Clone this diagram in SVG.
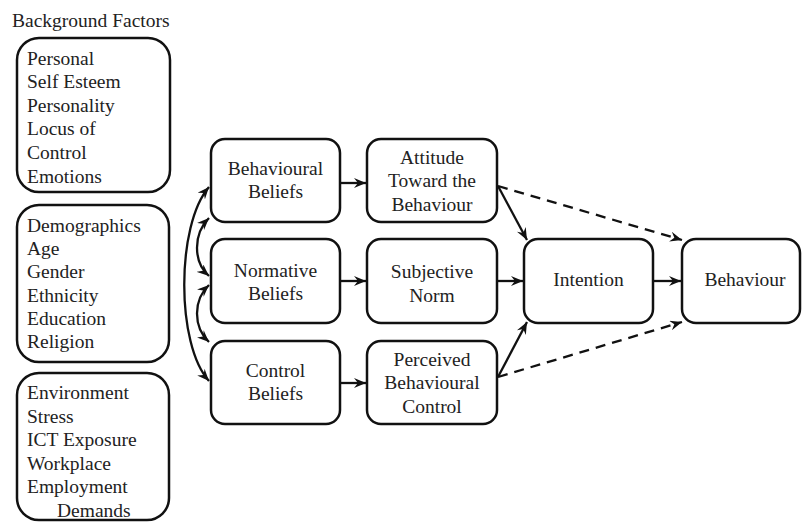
<svg xmlns="http://www.w3.org/2000/svg" width="803" height="525" viewBox="0 0 803 525" font-family="Liberation Serif, DejaVu Serif, serif">
<style>
text{font-size:19.5px;fill:#222}
.c{text-anchor:middle}
.box{fill:#fff;stroke:#111;stroke-width:2.5}
.ln{fill:none;stroke:#111;stroke-width:2.3}
.d{stroke-dasharray:10,7}
</style>
<defs>
<marker id="ah" viewBox="0 0 12 10" refX="12" refY="5" markerWidth="12" markerHeight="10" markerUnits="userSpaceOnUse" orient="auto-start-reverse">
<path d="M0,0 L12,5 L0,10 L4,5 z" fill="#111"/>
</marker>
</defs>
<g font-family="Liberation Serif, serif">
<text x="12" y="27">Background Factors</text>
<g id="personal">
<rect class="box" x="17" y="38" width="153" height="154" rx="22"/>
<text x="27" y="65">Personal</text>
<text x="27" y="88">Self Esteem</text>
<text x="27" y="112">Personality</text>
<text x="27" y="135">Locus of</text>
<text x="27" y="159">Control</text>
<text x="27" y="183">Emotions</text>
</g>
<g id="demographics">
<rect class="box" x="17" y="205" width="152" height="157" rx="22"/>
<text x="27" y="232">Demographics</text>
<text x="27" y="255">Age</text>
<text x="27" y="278">Gender</text>
<text x="27" y="302">Ethnicity</text>
<text x="27" y="325">Education</text>
<text x="27" y="348">Religion</text>
</g>
<g id="environment">
<rect class="box" x="17" y="373" width="152" height="147" rx="22"/>
<text x="27" y="399">Environment</text>
<text x="27" y="423">Stress</text>
<text x="27" y="446">ICT Exposure</text>
<text x="27" y="470">Workplace</text>
<text x="27" y="493">Employment</text>
<text x="57" y="517">Demands</text>
</g>
<g id="behavioural-beliefs">
<rect class="box" x="211" y="139" width="129" height="83" rx="14"/>
<text class="c" x="275.5" y="175">Behavioural</text>
<text class="c" x="275.5" y="198">Beliefs</text>
</g>
<g id="normative-beliefs">
<rect class="box" x="211" y="239" width="129" height="84" rx="14"/>
<text class="c" x="275.5" y="277">Normative</text>
<text class="c" x="275.5" y="300">Beliefs</text>
</g>
<g id="control-beliefs">
<rect class="box" x="211" y="341" width="129" height="83" rx="14"/>
<text class="c" x="275.5" y="377">Control</text>
<text class="c" x="275.5" y="400">Beliefs</text>
</g>
<g id="attitude">
<rect class="box" x="367" y="139" width="130" height="83" rx="14"/>
<text class="c" x="432" y="164">Attitude</text>
<text class="c" x="432" y="187">Toward the</text>
<text class="c" x="432" y="211">Behaviour</text>
</g>
<g id="subjective-norm">
<rect class="box" x="367" y="239" width="130" height="84" rx="14"/>
<text class="c" x="432" y="278">Subjective</text>
<text class="c" x="432" y="302">Norm</text>
</g>
<g id="perceived-control">
<rect class="box" x="367" y="341" width="130" height="83" rx="14"/>
<text class="c" x="432" y="366">Perceived</text>
<text class="c" x="432" y="389">Behavioural</text>
<text class="c" x="432" y="413">Control</text>
</g>
<g id="intention">
<rect class="box" x="524" y="239" width="129" height="84" rx="14"/>
<text class="c" x="588.5" y="286">Intention</text>
</g>
<g id="behaviour">
<rect class="box" x="682" y="239" width="118" height="84" rx="14"/>
<text class="c" x="745" y="286">Behaviour</text>
</g>
</g>
<g id="connectors">
<line class="ln" x1="340" y1="183" x2="366" y2="183" marker-end="url(#ah)"/>
<line class="ln" x1="340" y1="281" x2="366" y2="281" marker-end="url(#ah)"/>
<line class="ln" x1="340" y1="383" x2="366" y2="383" marker-end="url(#ah)"/>
<line class="ln" x1="497" y1="281" x2="523" y2="281" marker-end="url(#ah)"/>
<line class="ln" x1="653" y1="281" x2="681" y2="281" marker-end="url(#ah)"/>
<line class="ln" x1="498" y1="186" x2="527" y2="240" marker-end="url(#ah)"/>
<line class="ln" x1="498" y1="377" x2="527" y2="322" marker-end="url(#ah)"/>
<line class="ln d" x1="498" y1="186" x2="682" y2="240" marker-end="url(#ah)"/>
<line class="ln d" x1="498" y1="377" x2="682" y2="322" marker-end="url(#ah)"/>
<path class="ln" d="M209,187 C176,225 176,345 209,381" marker-start="url(#ah)" marker-end="url(#ah)"/>
<path class="ln" d="M209,218 C193,234 193,262 209,276" marker-start="url(#ah)" marker-end="url(#ah)"/>
<path class="ln" d="M209,285 C193,300 193,327 209,342" marker-start="url(#ah)" marker-end="url(#ah)"/>
</g>
</svg>
